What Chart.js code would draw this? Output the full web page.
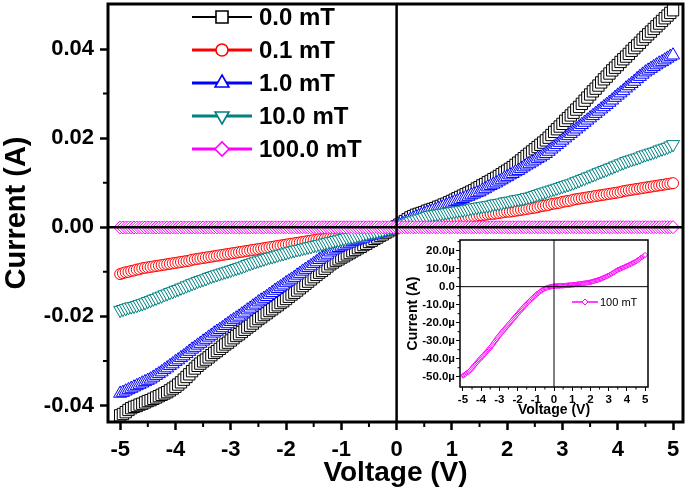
<!DOCTYPE html>
<html>
<head>
<meta charset="utf-8">
<script src="https://cdn.jsdelivr.net/npm/chart.js@4.4.1/dist/chart.umd.min.js"></script>
<style>
html, body { margin: 0; padding: 0; background: #fff; }
#wrap { position: relative; width: 685px; height: 491px; }
#mainChart { position: absolute; left: 0; top: 0; }
#insetChart { position: absolute; left: 400px; top: 236px; background: #fff; }
</style>
</head>
<body>
<div id="wrap">
  <canvas id="mainChart" width="685" height="491"></canvas>
  <canvas id="insetChart" width="279" height="183"></canvas>
</div>
<script>
// Barrido de voltaje, -5.00 V a 5.00 V cada 0.05 V
const voltage = Array.from({ length: 201 }, (_, i) => +(-5 + i * 0.05).toFixed(2));

const current0mT = [
  -0.0422,-0.0419,-0.0415,-0.0410,-0.0406,-0.0403,-0.0401,-0.0398,-0.0396,-0.0393,
  -0.0390,-0.0388,-0.0385,-0.0382,-0.0379,-0.0376,-0.0373,-0.0370,-0.0366,-0.0362,
  -0.0358,-0.0353,-0.0348,-0.0342,-0.0336,-0.0330,-0.0323,-0.0317,-0.0311,-0.0306,
  -0.0301,-0.0297,-0.0292,-0.0287,-0.0282,-0.0278,-0.0273,-0.0268,-0.0263,-0.0259,
  -0.0254,-0.0249,-0.0244,-0.0240,-0.0235,-0.0230,-0.0225,-0.0221,-0.0216,-0.0211,
  -0.0206,-0.0202,-0.0197,-0.0193,-0.0188,-0.0184,-0.0179,-0.0175,-0.0170,-0.0166,
  -0.0161,-0.0156,-0.0151,-0.0147,-0.0142,-0.0137,-0.0132,-0.0127,-0.0122,-0.0117,
  -0.0112,-0.0107,-0.0102,-0.0098,-0.0093,-0.0088,-0.0083,-0.0079,-0.0075,-0.0072,
  -0.0068,-0.0065,-0.0061,-0.0058,-0.0054,-0.0051,-0.0047,-0.0044,-0.0040,-0.0037,
  -0.0033,-0.0030,-0.0026,-0.0023,-0.0019,-0.0016,-0.0012,-0.0009,-0.0005,-0.0002,
  0.0002,
  0.0006,0.0010,0.0014,0.0018,0.0022,0.0025,0.0028,0.0030,0.0032,0.0034,
  0.0037,0.0039,0.0041,0.0043,0.0046,0.0048,0.0051,0.0053,0.0056,0.0059,
  0.0062,0.0065,0.0068,0.0071,0.0074,0.0077,0.0080,0.0083,0.0087,0.0090,
  0.0094,0.0097,0.0101,0.0104,0.0108,0.0111,0.0115,0.0119,0.0123,0.0127,
  0.0131,0.0135,0.0140,0.0145,0.0150,0.0155,0.0160,0.0165,0.0170,0.0175,
  0.0180,0.0185,0.0190,0.0195,0.0201,0.0207,0.0214,0.0220,0.0226,0.0232,
  0.0239,0.0245,0.0251,0.0257,0.0264,0.0270,0.0277,0.0284,0.0291,0.0298,
  0.0305,0.0311,0.0318,0.0325,0.0332,0.0338,0.0345,0.0352,0.0358,0.0364,
  0.0371,0.0377,0.0383,0.0389,0.0396,0.0402,0.0408,0.0414,0.0421,0.0427,
  0.0433,0.0439,0.0445,0.0451,0.0457,0.0463,0.0469,0.0475,0.0481,0.0487
];
const current01mT = [
  -0.0105,-0.0103,-0.0101,-0.0100,-0.0098,-0.0097,-0.0095,-0.0094,-0.0092,-0.0091,
  -0.0090,-0.0089,-0.0088,-0.0087,-0.0086,-0.0085,-0.0084,-0.0083,-0.0082,-0.0081,
  -0.0080,-0.0079,-0.0078,-0.0077,-0.0076,-0.0075,-0.0073,-0.0072,-0.0071,-0.0070,
  -0.0069,-0.0068,-0.0067,-0.0066,-0.0065,-0.0064,-0.0063,-0.0062,-0.0061,-0.0060,
  -0.0059,-0.0058,-0.0057,-0.0056,-0.0055,-0.0054,-0.0053,-0.0052,-0.0051,-0.0050,
  -0.0049,-0.0048,-0.0047,-0.0046,-0.0045,-0.0044,-0.0043,-0.0042,-0.0041,-0.0040,
  -0.0039,-0.0038,-0.0037,-0.0036,-0.0035,-0.0034,-0.0033,-0.0032,-0.0031,-0.0030,
  -0.0029,-0.0028,-0.0027,-0.0027,-0.0026,-0.0025,-0.0024,-0.0023,-0.0022,-0.0022,
  -0.0021,-0.0020,-0.0019,-0.0018,-0.0017,-0.0016,-0.0015,-0.0014,-0.0013,-0.0012,
  -0.0011,-0.0010,-0.0009,-0.0008,-0.0007,-0.0006,-0.0005,-0.0004,-0.0002,-0.0001,
  0.0000,
  0.0002,0.0003,0.0005,0.0006,0.0008,0.0009,0.0010,0.0011,0.0013,0.0014,
  0.0015,0.0016,0.0016,0.0017,0.0017,0.0018,0.0018,0.0019,0.0019,0.0020,
  0.0020,0.0021,0.0022,0.0023,0.0023,0.0024,0.0024,0.0025,0.0026,0.0027,
  0.0027,0.0028,0.0029,0.0030,0.0030,0.0031,0.0032,0.0033,0.0034,0.0035,
  0.0035,0.0036,0.0037,0.0038,0.0039,0.0040,0.0041,0.0042,0.0043,0.0044,
  0.0045,0.0047,0.0048,0.0049,0.0050,0.0052,0.0053,0.0054,0.0055,0.0057,
  0.0058,0.0059,0.0060,0.0062,0.0063,0.0064,0.0065,0.0066,0.0067,0.0068,
  0.0069,0.0070,0.0071,0.0072,0.0073,0.0074,0.0075,0.0076,0.0077,0.0078,
  0.0079,0.0081,0.0082,0.0083,0.0084,0.0085,0.0086,0.0087,0.0088,0.0089,
  0.0090,0.0091,0.0092,0.0093,0.0094,0.0095,0.0096,0.0097,0.0098,0.0099
];
const current1mT = [
  -0.0373,-0.0371,-0.0368,-0.0365,-0.0362,-0.0359,-0.0356,-0.0353,-0.0350,-0.0347,
  -0.0344,-0.0341,-0.0337,-0.0333,-0.0329,-0.0325,-0.0320,-0.0316,-0.0311,-0.0307,
  -0.0302,-0.0298,-0.0293,-0.0289,-0.0284,-0.0279,-0.0274,-0.0270,-0.0265,-0.0261,
  -0.0256,-0.0252,-0.0247,-0.0243,-0.0238,-0.0234,-0.0230,-0.0226,-0.0221,-0.0217,
  -0.0212,-0.0208,-0.0204,-0.0200,-0.0195,-0.0191,-0.0186,-0.0182,-0.0177,-0.0173,
  -0.0168,-0.0164,-0.0160,-0.0156,-0.0151,-0.0147,-0.0142,-0.0138,-0.0134,-0.0130,
  -0.0125,-0.0121,-0.0117,-0.0113,-0.0108,-0.0104,-0.0099,-0.0095,-0.0091,-0.0087,
  -0.0082,-0.0078,-0.0073,-0.0069,-0.0065,-0.0061,-0.0056,-0.0052,-0.0049,-0.0046,
  -0.0043,-0.0041,-0.0038,-0.0036,-0.0033,-0.0031,-0.0029,-0.0027,-0.0025,-0.0022,
  -0.0020,-0.0018,-0.0016,-0.0014,-0.0012,-0.0010,-0.0008,-0.0006,-0.0003,-0.0001,
  0.0002,
  0.0005,0.0008,0.0011,0.0014,0.0017,0.0020,0.0023,0.0025,0.0028,0.0030,
  0.0033,0.0035,0.0037,0.0039,0.0042,0.0044,0.0047,0.0049,0.0052,0.0054,
  0.0057,0.0059,0.0062,0.0064,0.0067,0.0069,0.0072,0.0074,0.0077,0.0079,
  0.0083,0.0086,0.0090,0.0093,0.0096,0.0099,0.0103,0.0106,0.0110,0.0113,
  0.0117,0.0120,0.0124,0.0127,0.0131,0.0135,0.0139,0.0142,0.0146,0.0150,
  0.0154,0.0157,0.0161,0.0165,0.0170,0.0175,0.0180,0.0185,0.0190,0.0195,
  0.0200,0.0205,0.0210,0.0215,0.0220,0.0225,0.0230,0.0235,0.0240,0.0245,
  0.0250,0.0255,0.0260,0.0265,0.0270,0.0275,0.0280,0.0285,0.0291,0.0296,
  0.0301,0.0306,0.0312,0.0317,0.0322,0.0327,0.0333,0.0338,0.0343,0.0348,
  0.0352,0.0356,0.0360,0.0364,0.0368,0.0371,0.0375,0.0379,0.0383,0.0386
];
const current10mT = [
  -0.0186,-0.0184,-0.0182,-0.0180,-0.0178,-0.0177,-0.0175,-0.0173,-0.0171,-0.0169,
  -0.0166,-0.0164,-0.0161,-0.0159,-0.0156,-0.0154,-0.0151,-0.0149,-0.0146,-0.0144,
  -0.0141,-0.0139,-0.0136,-0.0134,-0.0131,-0.0129,-0.0126,-0.0124,-0.0121,-0.0119,
  -0.0117,-0.0115,-0.0112,-0.0110,-0.0108,-0.0106,-0.0104,-0.0102,-0.0100,-0.0098,
  -0.0096,-0.0094,-0.0092,-0.0090,-0.0088,-0.0086,-0.0083,-0.0081,-0.0079,-0.0077,
  -0.0075,-0.0073,-0.0071,-0.0069,-0.0067,-0.0066,-0.0064,-0.0062,-0.0060,-0.0059,
  -0.0057,-0.0055,-0.0053,-0.0052,-0.0050,-0.0049,-0.0047,-0.0046,-0.0044,-0.0043,
  -0.0041,-0.0040,-0.0038,-0.0037,-0.0035,-0.0034,-0.0032,-0.0031,-0.0029,-0.0028,
  -0.0026,-0.0025,-0.0023,-0.0022,-0.0021,-0.0020,-0.0018,-0.0017,-0.0015,-0.0014,
  -0.0012,-0.0011,-0.0010,-0.0009,-0.0007,-0.0006,-0.0004,-0.0003,-0.0001,0.0000,
  0.0002,
  0.0004,0.0006,0.0008,0.0010,0.0013,0.0015,0.0017,0.0019,0.0021,0.0023,
  0.0025,0.0027,0.0028,0.0029,0.0030,0.0031,0.0032,0.0033,0.0034,0.0035,
  0.0036,0.0037,0.0038,0.0039,0.0040,0.0041,0.0043,0.0044,0.0045,0.0046,
  0.0047,0.0048,0.0049,0.0050,0.0052,0.0053,0.0054,0.0055,0.0057,0.0058,
  0.0059,0.0060,0.0062,0.0063,0.0064,0.0065,0.0067,0.0068,0.0070,0.0072,
  0.0074,0.0076,0.0078,0.0080,0.0082,0.0084,0.0086,0.0088,0.0090,0.0092,
  0.0094,0.0096,0.0098,0.0100,0.0103,0.0105,0.0108,0.0110,0.0113,0.0115,
  0.0118,0.0120,0.0123,0.0125,0.0128,0.0130,0.0133,0.0135,0.0138,0.0140,
  0.0143,0.0145,0.0148,0.0150,0.0152,0.0154,0.0156,0.0158,0.0161,0.0163,
  0.0165,0.0167,0.0169,0.0171,0.0174,0.0176,0.0178,0.0180,0.0183,0.0186
];
const current100mT_uA = [
  -49.5,-49.2,-48.8,-48.4,-48.0,-47.7,-47.3,-46.9,-46.5,-45.9,
  -45.3,-44.6,-44.0,-43.4,-42.9,-42.3,-41.8,-41.2,-40.6,-40.1,
  -39.5,-38.9,-38.4,-37.8,-37.3,-36.7,-36.2,-35.6,-35.1,-34.5,
  -34.0,-33.3,-32.6,-31.9,-31.2,-30.5,-29.8,-29.1,-28.4,-27.7,
  -27.0,-26.4,-25.8,-25.2,-24.6,-24.0,-23.5,-22.9,-22.3,-21.7,
  -21.1,-20.5,-19.9,-19.3,-18.7,-18.1,-17.5,-16.9,-16.3,-15.7,
  -15.2,-14.6,-14.0,-13.4,-12.9,-12.3,-11.7,-11.1,-10.6,-10.0,
  -9.5,-9.0,-8.5,-8.0,-7.5,-7.0,-6.6,-6.1,-5.6,-5.1,
  -4.7,-4.2,-3.8,-3.4,-3.0,-2.6,-2.3,-1.9,-1.6,-1.3,
  -1.1,-0.9,-0.7,-0.5,-0.4,-0.2,-0.1,0.0,0.1,0.2,
  0.3,
  0.3,0.4,0.4,0.4,0.4,0.4,0.5,0.5,0.5,0.5,
  0.6,0.6,0.7,0.7,0.8,0.8,0.9,0.9,1.0,1.0,
  1.1,1.1,1.2,1.2,1.3,1.4,1.4,1.5,1.6,1.6,
  1.7,1.8,1.9,2.0,2.0,2.1,2.2,2.3,2.4,2.5,
  2.6,2.8,2.9,3.1,3.2,3.4,3.5,3.7,3.8,4.0,
  4.2,4.4,4.6,4.9,5.1,5.3,5.5,5.8,6.0,6.2,
  6.5,6.8,7.1,7.4,7.7,8.0,8.3,8.7,9.0,9.3,
  9.5,9.7,9.9,10.2,10.4,10.6,10.8,11.1,11.3,11.5,
  11.7,12.0,12.2,12.5,12.7,13.0,13.2,13.5,13.7,14.0,
  14.3,14.7,15.0,15.4,15.8,16.2,16.5,16.9,17.2,17.6
];

// Ticks
const xTicks = [-5, -4, -3, -2, -1, 0, 1, 2, 3, 4, 5];
const xMinor = [-4.5, -3.5, -2.5, -1.5, -0.5, 0.5, 1.5, 2.5, 3.5, 4.5];
const yTicks = [-0.04, -0.02, 0, 0.02, 0.04];
const yMinor = [-0.03, -0.01, 0.01, 0.03];
const insetYTicks = [-50, -40, -30, -20, -10, 0, 10, 20];
const insetYMinor = [-45, -35, -25, -15, -5, 5, 15, 25];

const FONT = '"Liberation Sans", Arial, Helvetica, sans-serif';
Chart.defaults.font.family = FONT;
Chart.defaults.color = '#000';

const toPoints = (vals, k = 1) => voltage.map((v, i) => ({ x: v, y: vals[i] * k }));

const series = [
  { label: '0.0 mT', vals: current0mT, k: 1, color: '#000000', style: 'rect', r: 8, rot: 0, lw: 2, order: 5 },
  { label: '0.1 mT', vals: current01mT, k: 1, color: '#ff0000', style: 'circle', r: 5.5, rot: 0, lw: 3, order: 4 },
  { label: '1.0 mT', vals: current1mT, k: 1, color: '#0000ff', style: 'triangle', r: 7.5, rot: 0, lw: 3, order: 3 },
  { label: '10.0 mT', vals: current10mT, k: 1, color: '#008080', style: 'triangle', r: 7.5, rot: 180, lw: 3, order: 2 },
  { label: '100.0 mT', vals: current100mT_uA, k: 1e-6, color: '#ff00ff', style: 'rectRot', r: 6.5, rot: 0, lw: 3, order: 1 }
];

// Quita el relleno automático que Chart.js reserva para las etiquetas
const fixAxis = (size, horizontal) => s => {
  if (horizontal) { s.height = size; s.paddingLeft = 0; s.paddingRight = 0; }
  else { s.width = size; s.paddingTop = 0; s.paddingBottom = 0; }
};

// Dibuja un marcador hueco (para las leyendas)
const drawMarker = (ctx, style, x, y, r, rot) => {
  ctx.beginPath();
  if (style === 'rect') {
    const s = Math.SQRT1_2 * r;
    ctx.rect(x - s, y - s, 2 * s, 2 * s);
  } else if (style === 'circle') {
    ctx.arc(x, y, r, 0, Math.PI * 2);
  } else if (style === 'triangle') {
    const f = rot === 180 ? -1 : 1;
    ctx.moveTo(x, y - f * r);
    ctx.lineTo(x + 0.866 * r, y + f * 0.5 * r);
    ctx.lineTo(x - 0.866 * r, y + f * 0.5 * r);
    ctx.closePath();
  } else if (style === 'rectRot') {
    ctx.moveTo(x - r, y);
    ctx.lineTo(x, y - r);
    ctx.lineTo(x + r, y);
    ctx.lineTo(x, y + r);
    ctx.closePath();
  }
  ctx.fillStyle = '#fff';
  ctx.fill();
  ctx.stroke();
};

// Marco, líneas de cero, ticks menores y leyenda del panel principal
const mainDecor = {
  id: 'mainDecor',
  afterDatasetsDraw(chart) {
    const { ctx, chartArea: a, scales: { x, y } } = chart;
    ctx.save();
    ctx.strokeStyle = '#000';
    ctx.lineWidth = 2.5;
    const x0 = x.getPixelForValue(0);
    const y0 = y.getPixelForValue(0);
    ctx.beginPath();
    ctx.moveTo(x0, a.top); ctx.lineTo(x0, a.bottom);
    ctx.moveTo(a.left, y0); ctx.lineTo(a.right, y0);
    ctx.stroke();

    ctx.lineWidth = 3;
    ctx.strokeRect(a.left, a.top, a.right - a.left, a.bottom - a.top);

    ctx.lineWidth = 2;
    ctx.beginPath();
    xMinor.forEach(v => {
      const px = x.getPixelForValue(v);
      ctx.moveTo(px, a.bottom); ctx.lineTo(px, a.bottom + 5);
    });
    yMinor.forEach(v => {
      const py = y.getPixelForValue(v);
      ctx.moveTo(a.left, py); ctx.lineTo(a.left - 5, py);
    });
    ctx.stroke();

    // leyenda
    ctx.font = 'bold 24px ' + FONT;
    ctx.textBaseline = 'middle';
    ctx.textAlign = 'left';
    series.forEach((s, i) => {
      const ly = 17 + i * 33;
      ctx.strokeStyle = s.color;
      ctx.lineWidth = s.lw;
      ctx.beginPath();
      ctx.moveTo(192, ly); ctx.lineTo(252, ly);
      ctx.stroke();
      ctx.lineWidth = 1.6;
      drawMarker(ctx, s.style, 222, ly, s.style === 'rect' ? 8.5 : s.r + 0.5, s.rot);
      ctx.fillStyle = '#000';
      ctx.fillText(s.label, 259, ly + 1);
    });
    ctx.restore();
  }
};

const mainChart = new Chart(document.getElementById('mainChart'), {
  type: 'line',
  data: {
    datasets: series.map(s => ({
      label: s.label,
      data: toPoints(s.vals, s.k),
      borderColor: s.color,
      backgroundColor: s.color,
      borderWidth: 1.5,
      pointStyle: s.style,
      pointRadius: s.r,
      pointRotation: s.rot,
      pointBorderColor: s.color,
      pointBackgroundColor: '#fff',
      pointBorderWidth: 1,
      order: s.order,
      tension: 0
    }))
  },
  options: {
    responsive: false,
    devicePixelRatio: 1,
    animation: false,
    layout: { autoPadding: false, padding: { top: 4, right: 2, left: 0, bottom: 0 } },
    plugins: { legend: { display: false }, tooltip: { enabled: false } },
    scales: {
      x: {
        type: 'linear',
        min: -5.22,
        max: 5.18,
        afterBuildTicks: s => { s.ticks = xTicks.map(v => ({ value: v })); },
        afterFit: fixAxis(69, true),
        ticks: { font: { size: 22, weight: 'bold' }, color: '#000', padding: 7, maxRotation: 0, autoSkip: false, callback: v => String(v) },
        grid: { display: true, drawOnChartArea: false, drawTicks: true, tickLength: 8, tickWidth: 2.5, tickColor: '#000' },
        border: { display: false },
        title: { display: true, text: 'Voltage (V)', color: '#000', font: { size: 28, weight: 'bold' }, padding: { top: 0, bottom: 1 } }
      },
      y: {
        type: 'linear',
        min: -0.0437,
        max: 0.0501,
        afterBuildTicks: s => { s.ticks = yTicks.map(v => ({ value: v })); },
        afterFit: fixAxis(108, false),
        ticks: { font: { size: 22, weight: 'bold' }, color: '#000', padding: 6, autoSkip: false, callback: v => v.toFixed(2) },
        grid: { display: true, drawOnChartArea: false, drawTicks: true, tickLength: 8, tickWidth: 2.5, tickColor: '#000' },
        border: { display: false },
        title: { display: true, text: 'Current (A)', color: '#000', font: { size: 29, weight: 'bold' }, padding: { top: 0, bottom: 0 } }
      }
    }
  },
  plugins: [mainDecor]
});

// Recuadro: 100 mT en µA
const insetDecor = {
  id: 'insetDecor',
  afterDatasetsDraw(chart) {
    const { ctx, chartArea: a, scales: { x, y } } = chart;
    ctx.save();
    ctx.strokeStyle = '#000';
    ctx.lineWidth = 1;
    const x0 = x.getPixelForValue(0);
    const y0 = y.getPixelForValue(0);
    ctx.beginPath();
    ctx.moveTo(x0, a.top); ctx.lineTo(x0, a.bottom);
    ctx.moveTo(a.left, y0); ctx.lineTo(a.right, y0);
    ctx.stroke();

    ctx.lineWidth = 1.5;
    ctx.strokeRect(a.left, a.top, a.right - a.left, a.bottom - a.top);

    ctx.lineWidth = 1;
    ctx.beginPath();
    xMinor.forEach(v => {
      const px = x.getPixelForValue(v);
      ctx.moveTo(px, a.bottom); ctx.lineTo(px, a.bottom + 2.5);
    });
    insetYMinor.forEach(v => {
      const py = y.getPixelForValue(v);
      if (py < a.top) return;
      ctx.moveTo(a.left, py); ctx.lineTo(a.left - 2.5, py);
    });
    ctx.stroke();

    // leyenda del recuadro
    ctx.strokeStyle = '#ff00ff';
    ctx.lineWidth = 1.5;
    ctx.beginPath();
    ctx.moveTo(172, 66); ctx.lineTo(198, 66);
    ctx.stroke();
    ctx.lineWidth = 1;
    drawMarker(ctx, 'rectRot', 185, 66, 3, 0);
    ctx.fillStyle = '#000';
    ctx.font = '11px ' + FONT;
    ctx.textBaseline = 'middle';
    ctx.fillText('100 mT', 200, 67);
    ctx.restore();
  }
};

const insetChart = new Chart(document.getElementById('insetChart'), {
  type: 'line',
  data: {
    datasets: [{
      label: '100 mT',
      data: toPoints(current100mT_uA),
      borderColor: '#ff00ff',
      borderWidth: 1,
      pointStyle: 'rectRot',
      pointRadius: 2.5,
      pointBorderColor: '#ff00ff',
      pointBackgroundColor: '#fff',
      pointBorderWidth: 1,
      tension: 0
    }]
  },
  options: {
    responsive: false,
    devicePixelRatio: 1,
    animation: false,
    layout: { autoPadding: false, padding: { top: 4, right: 31, left: 0, bottom: 0 } },
    plugins: { legend: { display: false }, tooltip: { enabled: false } },
    scales: {
      x: {
        type: 'linear',
        min: -5.16,
        max: 5.16,
        afterBuildTicks: s => { s.ticks = xTicks.map(v => ({ value: v })); },
        afterFit: fixAxis(32, true),
        ticks: { font: { size: 11.5, weight: 'bold' }, color: '#000', padding: 2, maxRotation: 0, autoSkip: false, callback: v => String(v) },
        grid: { display: true, drawOnChartArea: false, drawTicks: true, tickLength: 4, tickWidth: 1, tickColor: '#000' },
        border: { display: false },
        title: { display: true, text: 'Voltage (V)', color: '#000', font: { size: 14, weight: 'bold' }, padding: { top: 0, bottom: 0 } }
      },
      y: {
        type: 'linear',
        min: -55.7,
        max: 25.9,
        afterBuildTicks: s => { s.ticks = insetYTicks.map(v => ({ value: v })); },
        afterFit: fixAxis(60, false),
        ticks: { font: { size: 11.5, weight: 'bold' }, color: '#000', padding: 1, autoSkip: false, callback: v => (v === 0 ? '0.0' : v.toFixed(1) + 'µ') },
        grid: { display: true, drawOnChartArea: false, drawTicks: true, tickLength: 4, tickWidth: 1, tickColor: '#000' },
        border: { display: false },
        title: { display: true, text: 'Current (A)', color: '#000', font: { size: 14, weight: 'bold' }, padding: { top: 5, bottom: 0 } }
      }
    }
  },
  plugins: [insetDecor]
});
</script>
</body>
</html>
